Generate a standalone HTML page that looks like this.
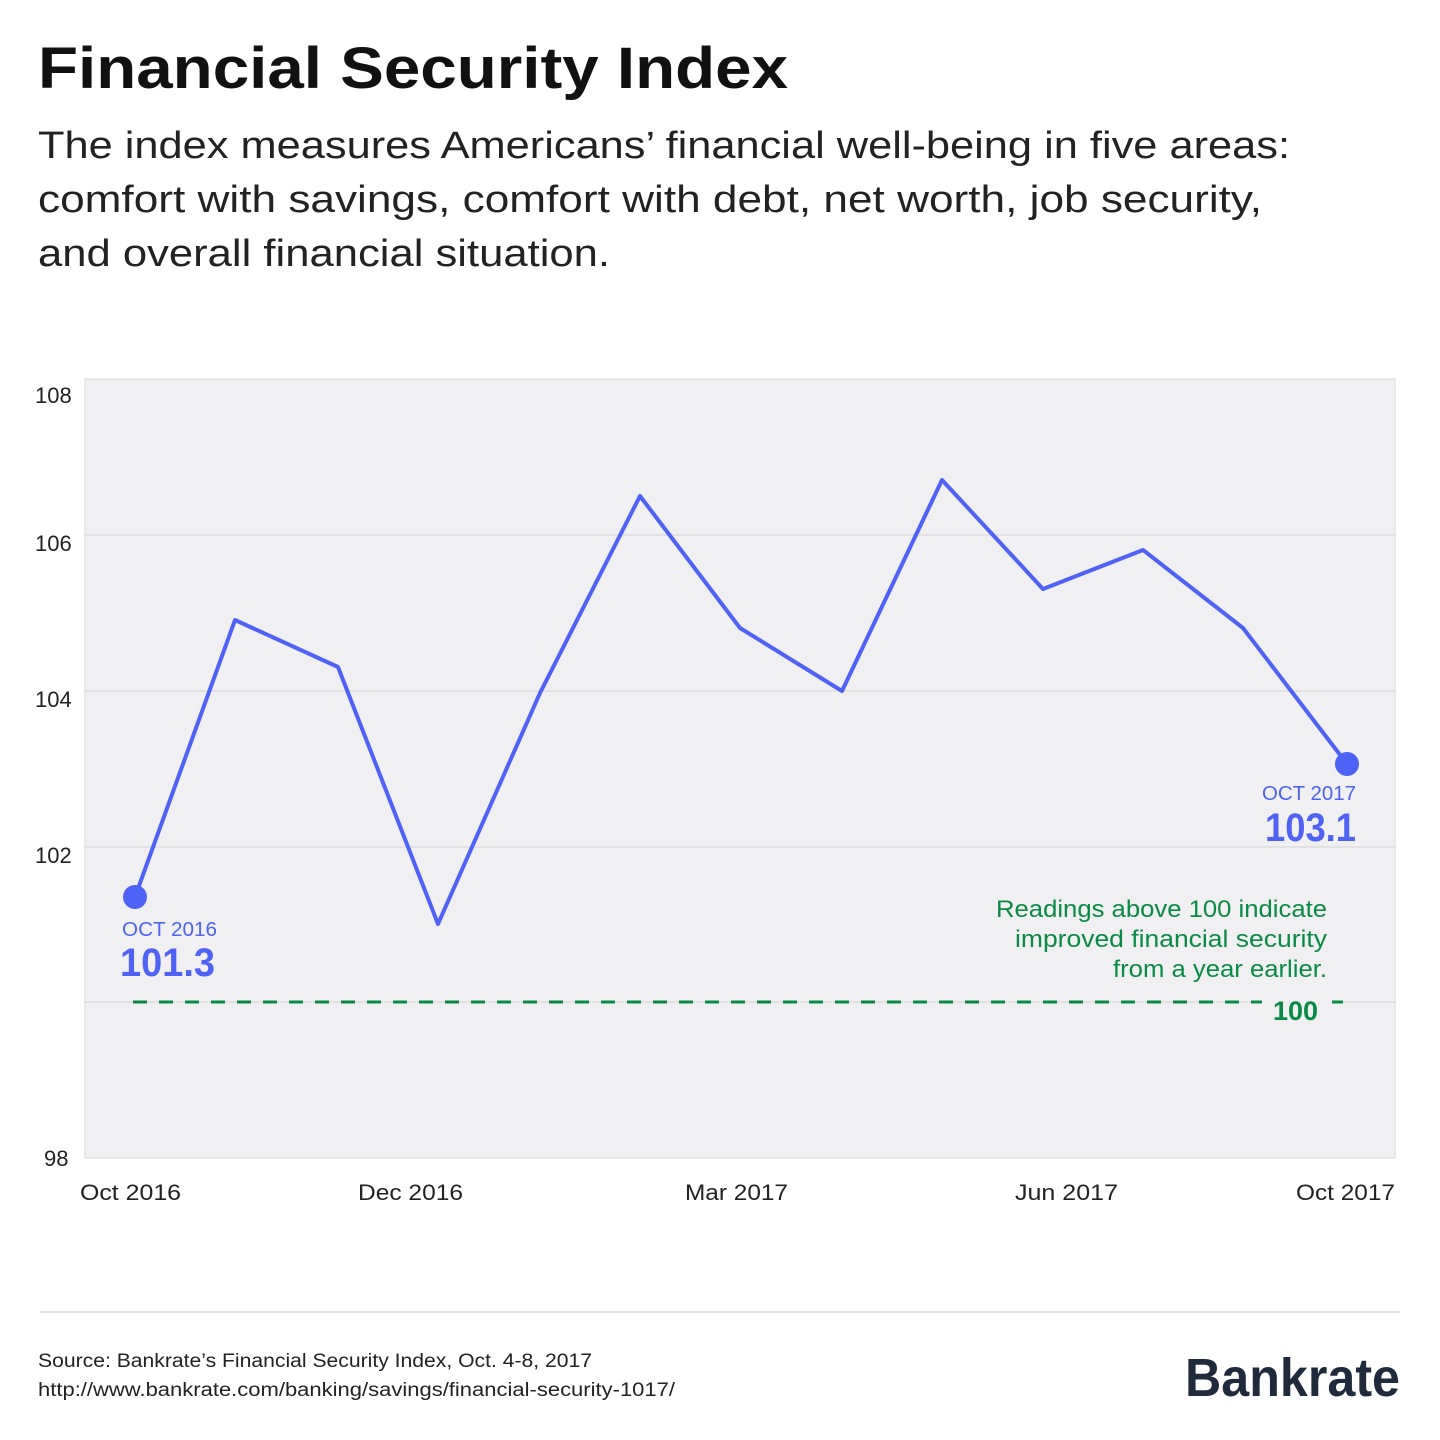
<!DOCTYPE html>
<html><head><meta charset="utf-8"><style>
body{margin:0;width:1440px;height:1440px;background:#fff;font-family:"Liberation Sans",sans-serif;color:#111;overflow:hidden}
</style></head><body>
<svg style="position:absolute;left:0;top:0" width="1440" height="1440" font-family="Liberation Sans,sans-serif">
<text x="38" y="88" font-size="58" font-weight="bold" fill="#111" textLength="750" lengthAdjust="spacingAndGlyphs">Financial Security Index</text>
<g font-size="38" fill="#222">
<text x="38" y="158" textLength="1252" lengthAdjust="spacingAndGlyphs">The index measures Americans’ financial well-being in five areas:</text>
<text x="38" y="212" textLength="1224" lengthAdjust="spacingAndGlyphs">comfort with savings, comfort with debt, net worth, job security,</text>
<text x="38" y="266" textLength="572" lengthAdjust="spacingAndGlyphs">and overall financial situation.</text>
</g>
<rect x="85" y="379" width="1310" height="779" fill="#f0f0f2" stroke="#d8d8dc" stroke-width="1"/>
<g stroke="#d4d4d8" stroke-width="1">
<line x1="85" x2="1395" y1="535" y2="535"/><line x1="85" x2="1395" y1="691" y2="691"/>
<line x1="85" x2="1395" y1="847" y2="847"/><line x1="85" x2="1395" y1="1002" y2="1002"/>
</g>
<g font-size="22" fill="#222">
<text x="35" y="403">108</text><text x="35" y="551">106</text><text x="35" y="707">104</text><text x="35" y="863">102</text><text x="44" y="1166">98</text>
<text x="80" y="1200" textLength="101" lengthAdjust="spacingAndGlyphs">Oct 2016</text>
<text x="358" y="1200" textLength="105" lengthAdjust="spacingAndGlyphs">Dec 2016</text>
<text x="685" y="1200" textLength="103" lengthAdjust="spacingAndGlyphs">Mar 2017</text>
<text x="1015" y="1200" textLength="103" lengthAdjust="spacingAndGlyphs">Jun 2017</text>
<text x="1296" y="1200" textLength="99" lengthAdjust="spacingAndGlyphs">Oct 2017</text>
</g>
<line x1="133" x2="1350" y1="1002" y2="1002" stroke="#0a8a45" stroke-width="3" stroke-dasharray="14,12"/>
<rect x="1262" y="990" width="70" height="30" fill="#f0f0f2"/>
<text x="1273" y="1020" font-size="27" font-weight="bold" fill="#0a8a45">100</text>
<g font-size="24" fill="#0a8a45">
<text x="996" y="917" textLength="331" lengthAdjust="spacingAndGlyphs">Readings above 100 indicate</text>
<text x="1015" y="947" textLength="312" lengthAdjust="spacingAndGlyphs">improved financial security</text>
<text x="1113" y="977" textLength="214" lengthAdjust="spacingAndGlyphs">from a year earlier.</text>
</g>
<polyline fill="none" stroke="#4e62f5" stroke-width="4" stroke-linejoin="round" points="135,897 235,620 338,667 438,924 540,693 640,496 740,628 842,691 942,480 1043,589 1143,550 1243,628 1347,764"/>
<circle cx="135" cy="897" r="12" fill="#4e62f5"/><circle cx="1347" cy="764" r="12" fill="#4e62f5"/>
<text x="122" y="936" font-size="20" fill="#4e62f5" textLength="95" lengthAdjust="spacingAndGlyphs">OCT 2016</text>
<text x="120" y="976" font-size="40" font-weight="bold" fill="#4e62f5" textLength="95" lengthAdjust="spacingAndGlyphs">101.3</text>
<text x="1262" y="800" font-size="20" fill="#4e62f5" textLength="94" lengthAdjust="spacingAndGlyphs">OCT 2017</text>
<text x="1265" y="841" font-size="40" font-weight="bold" fill="#4e62f5" textLength="91" lengthAdjust="spacingAndGlyphs">103.1</text>
<line x1="40" x2="1400" y1="1312" y2="1312" stroke="#e4e4e8" stroke-width="2"/>
<text x="38" y="1367" font-size="19" fill="#222" textLength="554" lengthAdjust="spacingAndGlyphs">Source: Bankrate’s Financial Security Index, Oct. 4-8, 2017</text>
<text x="38" y="1396" font-size="19" fill="#222" textLength="637" lengthAdjust="spacingAndGlyphs">http://www.bankrate.com/banking/savings/financial-security-1017/</text>
<text x="1185" y="1396" font-size="54" font-weight="bold" fill="#1f2b3d" textLength="215" lengthAdjust="spacingAndGlyphs">Bankrate</text>
</svg>
</body></html>
